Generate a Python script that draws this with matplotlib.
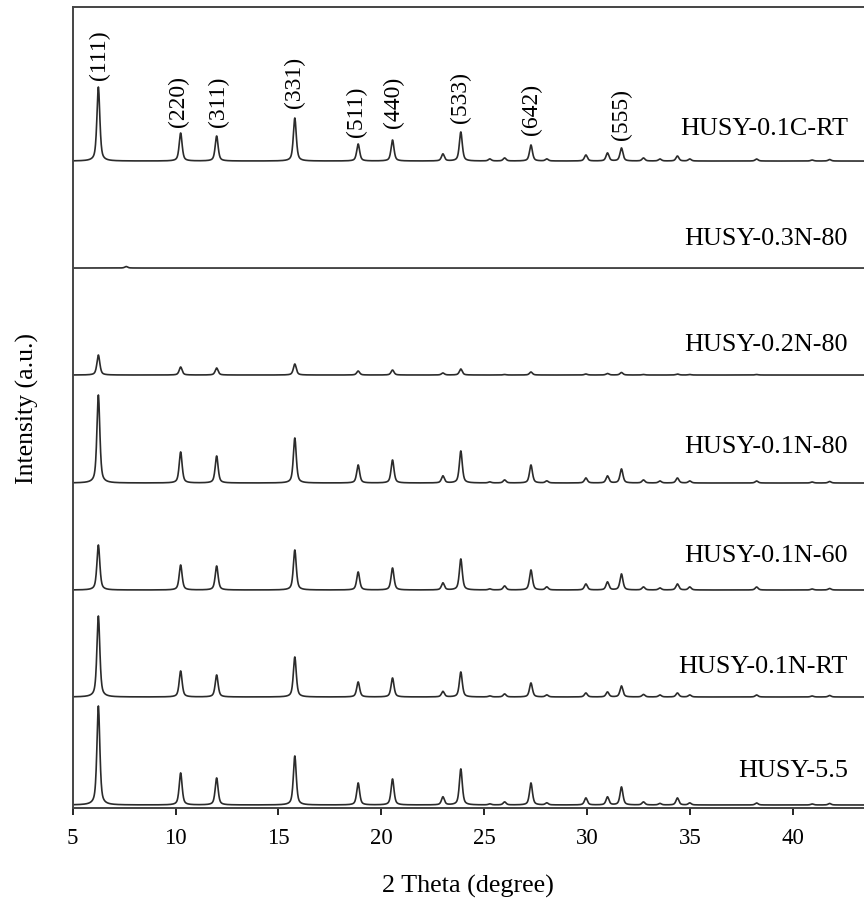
import numpy as np
import matplotlib.pyplot as plt

# sample names, bottom to top
samples = ["HUSY-5.5", "HUSY-0.1N-RT", "HUSY-0.1N-60", "HUSY-0.1N-80",
           "HUSY-0.2N-80", "HUSY-0.3N-80", "HUSY-0.1C-RT"]
# vertical offset of each pattern (a.u.)
offsets = [3, 111, 218, 325, 433, 540, 647]

# reflection positions (2 theta, degree)
peak_pos = [6.25, 7.6, 10.25, 12.0, 15.8, 18.88, 20.55, 23.0, 23.87, 25.28,
            26.0, 27.28, 28.05, 29.95, 31.0, 31.68, 32.75, 33.55, 34.4, 35.0,
            38.25, 40.95, 41.8]

# peak heights read for each sample, same order as peak_pos
h_55 = [99, 0, 32, 27, 49, 22, 26, 8, 36, 1, 3, 22, 2, 7, 8, 18, 3, 1.5, 7, 2, 2, 1, 1.5]
h_01n_rt = [81, 0, 26, 22, 40, 15, 19, 5.5, 25, 1, 3, 14, 2, 4, 5, 11, 2.5, 2, 4, 2, 2, 1, 1.5]
h_01n_60 = [45, 0, 25, 24, 40, 18, 22, 7, 31, 1, 4, 20, 3, 6, 8, 16, 3, 2, 6, 3, 3, 1, 1.5]
h_01n_80 = [88, 0, 31, 27, 45, 18, 23, 7, 32, 1, 3, 18, 2, 5, 7, 14, 3, 2, 5, 2, 2, 1, 1.5]
h_02n_80 = [20, 0, 8, 7, 11, 4, 5, 2, 6, 0, 0.5, 3, 0, 1, 1.5, 2.5, 0.5, 0, 1, 0.5, 0.5, 0, 0]
h_03n_80 = [0, 1.5, 0, 0, 0, 0, 0, 0, 0, 0, 0, 0, 0, 0, 0, 0, 0, 0, 0, 0, 0, 0, 0]
h_01c_rt = [74, 0, 28, 25, 43, 17, 21, 7, 29, 2, 3, 16, 2, 6, 8, 13, 3, 2, 5, 2, 2, 1, 1.5]
heights = [h_55, h_01n_rt, h_01n_60, h_01n_80, h_02n_80, h_03n_80, h_01c_rt]

# label text baselines (a.u.)
label_y = [32, 136, 247, 356, 458, 564, 674]

# Miller indices on top pattern
hkl = ["(111)", "(220)", "(311)", "(331)", "(511)", "(440)", "(533)", "(642)", "(555)"]
hkl_x = [6.3, 10.15, 12.1, 15.8, 18.8, 20.6, 23.85, 27.3, 31.7]
hkl_y = [729, 682, 682, 701, 672, 681, 686, 674, 669]

fwhm = 0.17
eta = 0.6

plt.rcParams["font.family"] = "Liberation Serif"

fig = plt.figure(figsize=(8.64, 9.04), dpi=100)
ax = fig.add_axes([0.0841, 0.1051, 0.9159, 0.886])

tt = np.arange(5.0, 43.6, 0.01)
for off, hs, name, ly in zip(offsets, heights, samples, label_y):
    y = np.zeros_like(tt)
    for p, h in zip(peak_pos, hs):
        d = (tt - p) / (fwhm / 2)
        y += h * (eta / (1 + d ** 2) + (1 - eta) * np.exp(-np.log(2) * d ** 2))
    ax.plot(tt, y + off, color="#2b2b2b", lw=1.2)
    ax.text(42.69, ly, name, ha="right", va="baseline", fontsize=18.8)

for lab, x, y in zip(hkl, hkl_x, hkl_y):
    ax.text(x, y, lab, rotation=90, ha="center", va="bottom", fontsize=17)

ax.set_xlim(5, 43.47)
ax.set_ylim(0, 801)
ax.set_xticks([5, 10, 15, 20, 25, 30, 35, 40])
ax.set_yticks([])
ax.tick_params(axis="x", direction="out", length=5, width=1.2, labelsize=16.5, pad=9)
ax.spines["right"].set_visible(False)
for s in ["left", "top", "bottom"]:
    ax.spines[s].set_linewidth(1.4)
    ax.spines[s].set_color("#444444")

ax.set_xlabel("2 Theta (degree)", fontsize=18.8, labelpad=18)
ax.set_ylabel("Intensity (a.u.)", fontsize=18.5, labelpad=24)

fig.savefig("out.png", dpi=100)
